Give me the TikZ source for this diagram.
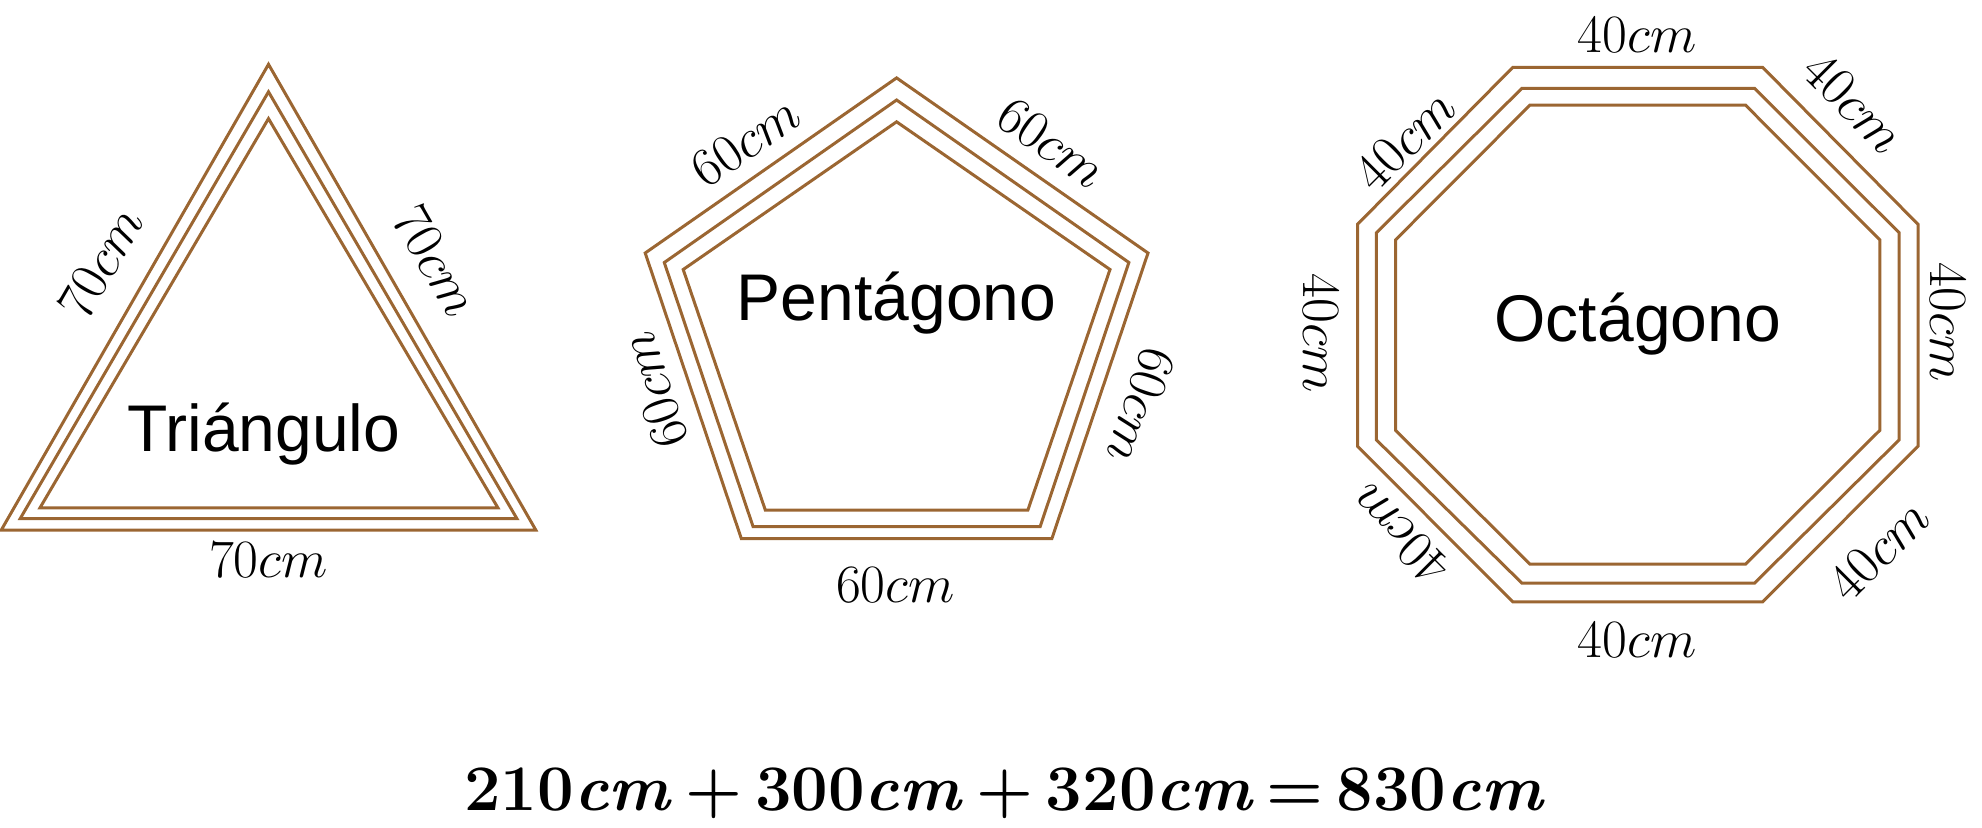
\RequirePackage{fix-cm}
\documentclass[tikz,border=0pt]{standalone}
\usepackage{fontspec}
\newfontfamily\arialf{Liberation Sans}
\definecolor{wood}{RGB}{155,102,50}
\newcommand{\opsp}{\hspace{0.2em}}
\begin{document}
\begin{tikzpicture}[x=0.5pt,y=-0.5pt,
  frame/.style={draw=wood,line width=1.5pt,line join=miter},
  lbl/.style={inner sep=0pt,font=\fontsize{27}{32}\selectfont},
  title/.style={inner sep=0pt,anchor=base,font=\arialf\fontsize{33}{40}\selectfont},
  eqn/.style={inner sep=0pt,anchor=base,font=\bfseries\fontsize{32.5}{36}\selectfont}]
\useasboundingbox (0,0) rectangle (1982,827);
% Triangle
\draw[frame] (268.5,64.3) -- (535.8,530) -- (1.3,530) -- cycle;
\draw[frame] (268.5,91.8) -- (516.9,518.6) -- (20.2,518.6) -- cycle;
\draw[frame] (268.5,118.6) -- (497.9,507.8) -- (40,507.8) -- cycle;
\node[title] (tri) at (264,451.6) {Triángulo};
\node[lbl,rotate=60] (t1) at (101,263) {$70cm$};
\node[lbl,rotate=-60] (t2) at (435.6,261) {$70cm$};
\node[lbl] (t3) at (268.3,559.7) {$70cm$};
% Pentagon
\draw[frame] (896.6,77.9) -- (1148,253) -- (1051.9,538.5) -- (741.3,538.5) -- (645.2,253) -- cycle;
\draw[frame] (896.6,100) -- (1128.9,262.5) -- (1040.1,526.7) -- (753.1,526.7) -- (664.3,262.5) -- cycle;
\draw[frame] (896.6,121.8) -- (1110,269.5) -- (1027.9,510) -- (765.3,510) -- (683.2,269.5) -- cycle;
\node[title] (pen) at (896.6,320.3) {Pentágono};
\node[lbl,rotate=34.9] (p1) at (745.4,141.2) {$60cm$};
\node[lbl,rotate=-34.9] (p2) at (1051.6,143.1) {$60cm$};
\node[lbl,rotate=108.6] (p3) at (654,390) {$60cm$};
\node[lbl,rotate=-108.5] (p4) at (1141.5,406) {$60cm$};
\node[lbl] (p5) at (895.4,585.2) {$60cm$};
% Octagon
\draw[frame] (1512.8,67.3) -- (1762.6,67.3) -- (1918,224.3) -- (1918,446.2) -- (1762.6,601.9) -- (1512.8,601.9) -- (1357.5,446.2) -- (1357.5,224.3) -- cycle;
\draw[frame] (1521.8,88.4) -- (1754.6,88.4) -- (1899.2,232.8) -- (1899.2,439.8) -- (1754.6,583) -- (1521.8,583) -- (1376.3,439.8) -- (1376.3,232.8) -- cycle;
\draw[frame] (1529.8,105.2) -- (1745.6,105.2) -- (1879.9,239.9) -- (1879.9,430.2) -- (1745.6,564) -- (1529.8,564) -- (1395.5,430.2) -- (1395.5,239.9) -- cycle;
\node[title] (oct) at (1637.7,341) {Octágono};
\node[lbl] (o1) at (1637,34.7) {$40cm$};
\node[lbl,rotate=-45] (o2) at (1854,103) {$40cm$};
\node[lbl,rotate=-90] (o3) at (1948,322) {$40cm$};
\node[lbl,rotate=45] (o4) at (1878.6,550) {$40cm$};
\node[lbl] (o5) at (1637,640) {$40cm$};
\node[lbl,rotate=135] (o6) at (1399.5,534.5) {$40cm$};
\node[lbl,rotate=-90] (o7) at (1321,333) {$40cm$};
\node[lbl,rotate=45] (o8) at (1405,140) {$40cm$};
% Equation
\node[eqn] (sum) at (1004.5,810) {210\textit{cm}\opsp+\opsp300\textit{cm}\opsp+\opsp320\textit{cm}\opsp=\opsp830\textit{cm}};
\end{tikzpicture}
\end{document}
